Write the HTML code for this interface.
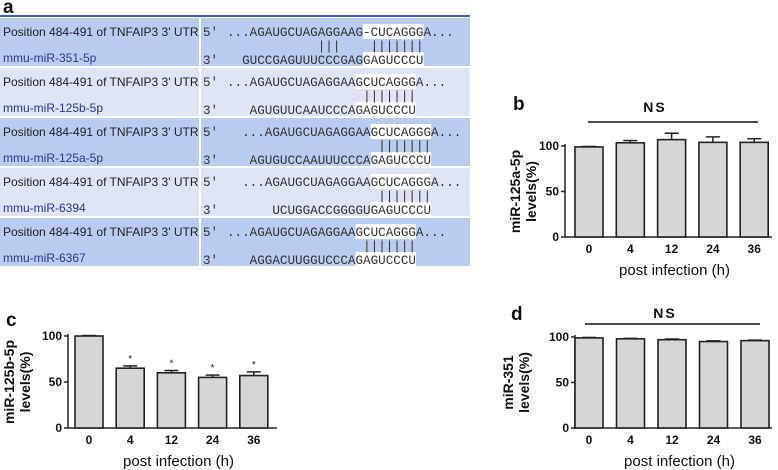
<!DOCTYPE html>
<html><head><meta charset="utf-8"><style>
body{margin:0;background:#fff;}
svg{display:block;font-family:"Liberation Sans",sans-serif;}
.mono{font-family:"Liberation Mono",monospace;font-size:12.6px;fill:#333;white-space:pre;}
.lab{font-size:12px;fill:#222;}
.mir{font-size:12px;fill:#2a3a8a;}
.tick{font-size:12px;font-weight:bold;fill:#111;}
.yt{font-size:14px;font-weight:bold;fill:#111;}
.xt{font-size:15px;fill:#111;}
.pl{font-size:19px;font-weight:bold;fill:#111;}
</style></head><body>
<svg id="fig" width="778" height="470" viewBox="0 0 778 470">
<text class="pl" x="3" y="13">a</text>
<g id="table"></g>
<g id="pb"></g>
<g id="pc"></g>
<g id="pd"></g>
</svg>
<script>
const NS='http://www.w3.org/2000/svg';
function mk(p,t,a,txt){const e=document.createElementNS(NS,t);for(const k in a)e.setAttribute(k,a[k]);if(txt!==undefined)e.textContent=txt;p.appendChild(e);return e;}

// ---- panel a table data ----
const mirNames=['mmu-miR-351-5p','mmu-miR-125b-5p','mmu-miR-125a-5p','mmu-miR-6394','mmu-miR-6367'];
const topSeqs=['...AGAUGCUAGAGGAAG-CUCAGGGA...','...AGAUGCUAGAGGAAGCUCAGGGA...','...AGAUGCUAGAGGAAGCUCAGGGA...','...AGAUGCUAGAGGAAGCUCAGGGA...','...AGAUGCUAGAGGAAGCUCAGGGA...'];
const botSeqs=['GUCCGAGUUUCCCGAGGAGUCCCU','AGUGUUCAAUCCCAGAGUCCCU','AGUGUCCAAUUUCCCAGAGUCCCU','UCUGGACCGGGGUGAGUCCCU','AGGACUUGGUCCCAGAGUCCCU'];
const topOff=[0,0,2,2,0];
const hiTop=[18,17,17,17,17];
const hiBot=[16,14,16,13,14];

const T=document.getElementById('table');
const CW=7.56, X0=227;
mk(T,'rect',{x:0,y:15,width:470,height:2,fill:'#3a5fc8'});
for(let i=0;i<5;i++){
  const y=18+i*50, h=48, col=i%2==0?'#b9cbef':'#dfe4f5';
  const r1=mk(T,'rect',{x:0,y:y,width:199,height:h,fill:col});
  
  
  mk(T,'rect',{x:201,y:y,width:269,height:h,fill:col});
  mk(T,'text',{class:'lab',x:3,y:y+18},'Position 484-491 of TNFAIP3 3\' UTR');
  const m=mk(T,'text',{class:'mir',x:3,y:y+44},mirNames[i]);
  
  
  mk(T,'text',{class:'mono',x:203,y:y+18},"5'");
  mk(T,'text',{class:'mono',x:203,y:y+46},"3'");
  const tx=X0+topOff[i]*CW, bx=tx+(hiTop[i]-hiBot[i])*CW;
  mk(T,'rect',{x:tx+hiTop[i]*CW,y:y+6,width:8*CW,height:15,fill:'#fff'});
  mk(T,'rect',{x:bx+hiBot[i]*CW,y:y+34,width:8*CW,height:14,fill:'#fff'});
  mk(T,'text',{class:'mono',x:tx,y:y+18},topSeqs[i]);
  mk(T,'text',{class:'mono',x:bx,y:y+46},botSeqs[i]);
  const bs=i==0?[12,19]:[hiTop[i]+1];
  bs.forEach((c,j)=>{
    const n=(i==0&&j==0)?3:7;
    mk(T,'text',{class:'mono',x:tx+c*CW,y:y+32},'|'.repeat(n));
  });
}

// ---- charts ----
const cats=['0','4','12','24','36'];
const valsB=[99,103.5,107,104,104];
const errB=[0.5,2.5,7,6,4];
const valsC=[100,65,60,55,57];
const errC=[0.5,2.5,2.5,2.5,4];
const starsC=['','*','*','*','*'];
const valsD=[99,98,97,95,96];
const errD=[0.5,0.5,0.8,0.8,0.6];
const yTicks=[0,50,100];

function chart(g,o){
  const y=v=>o.y0-(v/100)*(o.y0-o.y100);
  const x=i=>o.c0+i*o.sp;
  mk(g,'line',{x1:o.ax,y1:o.y0,x2:o.ax,y2:y(100)-2,stroke:'#222','stroke-width':1.5});
  mk(g,'line',{x1:o.ax,y1:o.y0,x2:o.xend,y2:o.y0,stroke:'#222','stroke-width':1.5});
  yTicks.forEach(t=>{
    mk(g,'line',{x1:o.ax-4,y1:y(t),x2:o.ax,y2:y(t),stroke:'#222','stroke-width':1.5});
    const tl=mk(g,'text',{class:'tick',x:o.ax-6,y:y(t)+4,'text-anchor':'end'},t);
    
    
  });
  o.vals.forEach((v,i)=>{
    const cx=x(i), top=y(v+o.err[i]);
    mk(g,'line',{x1:cx,y1:y(v),x2:cx,y2:top,stroke:'#222','stroke-width':1.5});
    mk(g,'line',{x1:cx-7,y1:top,x2:cx+7,y2:top,stroke:'#222','stroke-width':1.5});
    const b=mk(g,'rect',{x:cx-14,y:y(v),width:28,height:o.y0-y(v),fill:'#d6d6d6',stroke:'#222','stroke-width':1.6});
    
    
    const xl=mk(g,'text',{class:'tick',x:cx,y:o.y0+16,'text-anchor':'middle'},cats[i]);
    
    
    if(o.stars&&o.stars[i]) mk(g,'text',{x:cx,y:top-4,'text-anchor':'middle','font-size':'10px',fill:'#222'},o.stars[i]);
  });
  const xt=mk(g,'text',{class:'xt',x:(o.ax+o.xend)/2+6,y:o.y0+38,'text-anchor':'middle'},'post infection (h)');
  
  
  const yc=(o.y0+o.y100)/2;
  const yt=mk(g,'text',{class:'yt',transform:`translate(${o.yl1},${yc}) rotate(-90)`,'text-anchor':'middle'},o.ylab);
  
  
  mk(g,'text',{class:'yt',transform:`translate(${o.yl1+16},${yc}) rotate(-90)`,'text-anchor':'middle'},'levels(%)');
  mk(g,'text',{class:'pl',x:o.px,y:o.py},o.letter);
  if(o.ns){
    const n=mk(g,'text',{x:o.ns[0],y:o.ns[1],'text-anchor':'middle','font-size':'14px','font-weight':'bold','letter-spacing':'2px',fill:'#111'},'NS');
    
    
    mk(g,'line',{x1:o.ns[2],y1:o.ns[3],x2:o.ns[4],y2:o.ns[3],stroke:'#111','stroke-width':1.5});
  }
}
chart(document.getElementById('pb'),{ax:565,y0:237,y100:146,c0:589,sp:41.3,xend:772,vals:valsB,err:errB,ylab:'miR-125a-5p',yl1:520,px:513,py:110,letter:'b',ns:[655,112,588,122,758]});
chart(document.getElementById('pc'),{ax:68,y0:428,y100:336,c0:89,sp:41.2,xend:277,vals:valsC,err:errC,stars:starsC,ylab:'miR-125b-5p',yl1:14,px:6,py:326,letter:'c'});
chart(document.getElementById('pd'),{ax:575,y0:428,y100:337,c0:589,sp:41.5,xend:772,vals:valsD,err:errD,ylab:'miR-351',yl1:513,px:511,py:320,letter:'d',ns:[665,318,585,324,760]});
</script>
</body></html>
